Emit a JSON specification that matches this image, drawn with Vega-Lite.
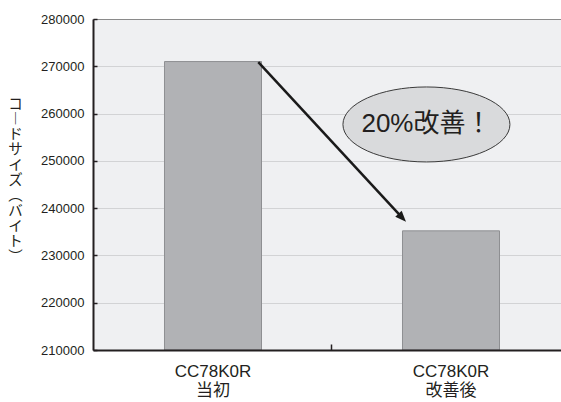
{
  "$schema": "https://vega.github.io/schema/vega-lite/v6.json",
  "width": 468,
  "height": 331,
  "autosize": {"type": "none"},
  "padding": {"left": 93, "top": 19, "right": 0, "bottom": 52},
  "background": "white",
  "config": {"view": {"stroke": null, "fill": "#eff0f2"}, "font": "Liberation Sans"},
  "datasets": {
    "bars": [
      {"label": "CC78K0R 当初", "size": 271000},
      {"label": "CC78K0R 改善後", "size": 235200}
    ],
    "note": [{"x": 1.401, "y": 257700, "text": "20%改善！"}],
    "arrow": [{"x": 0.6945, "y": 270900, "x2": 1.298, "y2": 238060}],
    "tip": [{"x": 1.315, "y": 237130, "angle": 47}]
  },
  "layer": [
    {
      "data": {"name": "bars"},
      "mark": {"type": "bar", "fill": "#b1b2b5", "stroke": "#8e8f92", "strokeWidth": 1},
      "encoding": {
        "x": {
          "field": "label",
          "type": "nominal",
          "sort": null,
          "scale": {"paddingInner": 0.5924, "paddingOuter": 0.2794, "align": 0.5376},
          "axis": {
            "title": null,
            "labelExpr": "split(datum.label, ' ')",
            "labelAngle": 0,
            "labelFont": "Liberation Sans, Noto Sans CJK JP",
            "labelFontSize": 17,
            "labelLineHeight": 19,
            "labelColor": "#231f20",
            "labelBaseline": "top",
            "labelPadding": 13,
            "ticks": false,
            "domainColor": "#231f20",
            "domainWidth": 2,
            "grid": false,
            "zindex": 1
          }
        },
        "y": {
          "field": "size",
          "type": "quantitative",
          "scale": {"domain": [210000, 280000], "zero": false, "nice": false},
          "axis": {
            "title": ["コ", "︱", "ド", "サ", "イ", "ズ", "︵", "バ", "イ", "ト", "︶"],
            "titleAngle": 0,
            "titleX": -78,
            "titleY": 85,
            "titleAlign": "center",
            "titleBaseline": "middle",
            "titleFont": "Noto Sans CJK JP",
            "titleFontSize": 14.5,
            "titleFontWeight": "normal",
            "titleLineHeight": 15.3,
            "titleColor": "#231f20",
            "values": [210000, 220000, 230000, 240000, 250000, 260000, 270000, 280000],
            "format": "d",
            "labelFont": "Liberation Sans",
            "labelFontSize": 13,
            "labelColor": "#231f20",
            "labelPadding": 13,
            "tickSize": -4,
            "tickColor": "#231f20",
            "tickWidth": 1.5,
            "domainColor": "#231f20",
            "domainWidth": 2,
            "gridColor": "#d2d3d5",
            "gridWidth": 1.2
          }
        },
        "y2": {"datum": 210000}
      }
    },
    {
      "layer": [
        {
          "data": {"name": "arrow"},
          "mark": {"type": "rule", "stroke": "#1a1a1a", "strokeWidth": 2.5},
          "encoding": {
            "x": {
              "field": "x",
              "type": "quantitative",
              "scale": {"domain": [0, 1.9664], "nice": false, "zero": false},
              "axis": {"orient": "top", "title": null, "labels": false, "ticks": false, "grid": false, "domain": true, "domainColor": "#8a8a8a", "domainWidth": 1}
            },
            "y": {"field": "y", "type": "quantitative", "scale": {"domain": [210000, 280000], "zero": false, "nice": false}, "axis": null},
            "x2": {"field": "x2"},
            "y2": {"field": "y2"}
          }
        },
        {
          "data": {"name": "tip"},
          "mark": {"type": "point", "shape": "M 0 0 L -2 -0.8 L -2 0.8 Z", "size": 121, "filled": true, "fill": "#1a1a1a", "opacity": 1, "strokeWidth": 0},
          "encoding": {
            "x": {
              "field": "x",
              "type": "quantitative",
              "axis": {"orient": "bottom", "title": null, "values": [1], "labels": false, "ticks": true, "tickSize": -6, "tickColor": "#231f20", "tickWidth": 1.5, "grid": false, "domain": false, "zindex": 1}
            },
            "y": {"field": "y", "type": "quantitative", "axis": null},
            "angle": {"field": "angle", "type": "quantitative", "scale": null}
          }
        },
        {
          "data": {"name": "note"},
          "mark": {"type": "point", "shape": "M -1 0 A 1 0.449 0 1 1 1 0 A 1 0.449 0 1 1 -1 0 Z", "size": 27889, "filled": true, "fill": "#d9dadc", "stroke": "#3a3a3a", "strokeWidth": 1, "opacity": 1},
          "encoding": {
            "x": {"field": "x", "type": "quantitative", "axis": null},
            "y": {"field": "y", "type": "quantitative", "axis": null}
          }
        },
        {
          "data": {"name": "note"},
          "mark": {"type": "text", "font": "Liberation Sans, Noto Sans CJK JP", "fontSize": 26, "fill": "#231f20", "align": "center", "baseline": "middle"},
          "encoding": {
            "x": {"field": "x", "type": "quantitative", "axis": null},
            "y": {"field": "y", "type": "quantitative", "axis": null},
            "text": {"field": "text"}
          }
        }
      ],
      "resolve": {"axis": {"x": "independent"}}
    }
  ],
  "resolve": {"scale": {"x": "independent"}, "axis": {"y": "independent"}}
}
